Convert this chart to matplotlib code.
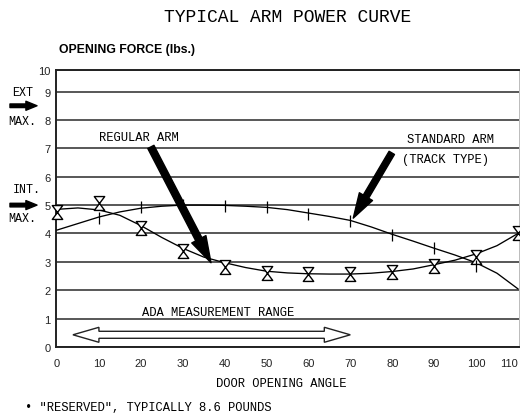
import matplotlib
matplotlib.use("Agg")
import matplotlib.pyplot as plt
from matplotlib.path import Path
from matplotlib.patches import FancyArrowPatch, Polygon
from matplotlib.transforms import blended_transform_factory, IdentityTransform

# ---------------- data ----------------
curve_angle = [0, 5, 10, 15, 20, 25, 30, 35, 40, 45, 50, 55, 60, 65, 70, 75, 80, 85, 90, 95, 100, 105, 110]
regular_curve = [4.85, 4.90, 4.83, 4.64, 4.28, 3.86, 3.48, 3.17, 2.97, 2.80, 2.67, 2.61, 2.58, 2.57,
                 2.57, 2.60, 2.66, 2.75, 2.90, 3.06, 3.28, 3.57, 4.00]
standard_curve = [4.12, 4.35, 4.58, 4.76, 4.89, 4.96, 5.00, 5.00, 4.99, 4.96, 4.92, 4.84, 4.72, 4.60,
                  4.46, 4.23, 3.97, 3.73, 3.48, 3.24, 2.97, 2.60, 2.05]

regular_angle = [0, 10, 20, 30, 40, 50, 60, 70, 80, 90, 100, 110]
regular_points = [4.76, 5.08, 4.20, 3.37, 2.82, 2.62, 2.58, 2.57, 2.64, 2.84, 3.17, 4.00]
standard_angle = [10, 20, 30, 40, 50, 60, 70, 80, 90, 100]
standard_points = [4.53, 4.92, 5.00, 4.97, 4.93, 4.68, 4.45, 3.95, 3.50, 2.87]

x_ticks = [0, 10, 20, 30, 40, 50, 60, 70, 80, 90, 100, 110]
y_ticks = [0, 1, 2, 3, 4, 5, 6, 7, 8, 9]
y_top = 9.76
y_tick_labels = ["0", "1", "2", "3", "4", "5", "6", "7", "8", "9", "10"]

ada_range = [3.8, 70.0]
ada_level = 0.43
ext_max_level = 8.5
int_max_level = 5.0

title = "TYPICAL ARM POWER CURVE"
ylabel = "OPENING FORCE (lbs.)"
xlabel = "DOOR OPENING ANGLE"
footnote = '\u2022 "RESERVED", TYPICALLY 8.6 POUNDS'

# ---------------- figure ----------------
MONO = "Liberation Mono"
SANS = "Liberation Sans"
W, H = 520, 414
fig = plt.figure(figsize=(W / 100, H / 100), dpi=100)
ax = fig.add_axes([56 / W, 66 / H, 463 / W, 277 / H])
ax.set_xlim(-0.24, 110.26)
ax.set_ylim(0, y_top)

ax.set_yticks(y_ticks + [y_top])
ax.set_yticklabels(y_tick_labels, fontfamily=SANS, fontsize=8)
ax.set_xticks(x_ticks)
xtl = ax.set_xticklabels([str(t) for t in x_ticks], fontfamily=SANS, fontsize=8)
xtl[-1].set_horizontalalignment("right")
ax.tick_params(axis="both", length=0, colors="#222222")
ax.tick_params(axis="y", pad=4)
ax.tick_params(axis="x", pad=8)
ax.yaxis.grid(True, color="#2a2a2a", linewidth=1.1)
ax.set_axisbelow(True)

for side in ["left", "bottom", "top"]:
    ax.spines[side].set_color("#222222")
    ax.spines[side].set_linewidth(1.4)
ax.spines["right"].set_color("#bbbbbb")
ax.spines["right"].set_linewidth(0.7)

# curves
ax.plot(curve_angle, regular_curve, color="black", lw=0.95, zorder=3)
ax.plot(curve_angle, standard_curve, color="black", lw=0.95, zorder=3)

hourglass = Path([(-0.75, 1), (0.75, 1), (-0.75, -1), (0.75, -1), (-0.75, 1)],
                 [Path.MOVETO, Path.LINETO, Path.LINETO, Path.LINETO, Path.CLOSEPOLY])
ax.plot(regular_angle, regular_points, linestyle="none", marker=hourglass, markersize=10,
        markerfacecolor="white", markeredgecolor="black", markeredgewidth=1.0,
        zorder=4, clip_on=False)
ax.plot(standard_angle, standard_points, linestyle="none", marker="|", markersize=8.6,
        markeredgecolor="black", markeredgewidth=0.9, zorder=4)

# big arrows
def big_arrow(tail, tip, tw, hw, hl):
    p = FancyArrowPatch(posA=tail, posB=tip,
                        arrowstyle=f"simple,head_length={hl},head_width={hw},tail_width={tw}",
                        mutation_scale=1, color="black", shrinkA=0, shrinkB=0, zorder=5)
    ax.add_patch(p)

big_arrow((22.4, 7.05), (36.75, 2.97), 5.0, 11.5, 19)
big_arrow((79.9, 6.84), (70.7, 4.54), 4.5, 11, 18)

ax.text(19.6, 7.4, "REGULAR ARM", fontfamily=MONO, fontsize=8.7, ha="center", va="center")
ax.text(94.0, 7.33, "STANDARD ARM", fontfamily=MONO, fontsize=8.7, ha="center", va="center")
ax.text(92.6, 6.62, "(TRACK TYPE)", fontfamily=MONO, fontsize=8.7, ha="center", va="center")

# ADA double hollow arrow
ax.text(38.4, 1.24, "ADA MEASUREMENT RANGE", fontfamily=MONO, fontsize=8.7, ha="center", va="center")
fig.canvas.draw()
(xl, yc), (xr, _) = ax.transData.transform([(ada_range[0], ada_level), (ada_range[1], ada_level)])
hl, hh, sh = 26, 7.5, 3.5
verts = [(xl, yc), (xl + hl, yc + hh), (xl + hl, yc + sh), (xr - hl, yc + sh), (xr - hl, yc + hh),
         (xr, yc), (xr - hl, yc - hh), (xr - hl, yc - sh), (xl + hl, yc - sh), (xl + hl, yc - hh)]
ax.add_patch(Polygon(verts, closed=True, facecolor="white", edgecolor="#222222", lw=1.0,
                     transform=IdentityTransform(), zorder=5))

# left-side indicators
bt = blended_transform_factory(ax.transAxes, ax.transData)
for lvl in [ext_max_level, int_max_level]:
    ax.add_patch(FancyArrowPatch(posA=(-0.0994, lvl), posB=(-0.041, lvl), transform=bt,
                                 arrowstyle="simple,head_length=8,head_width=6.5,tail_width=2.6",
                                 mutation_scale=1, color="black", shrinkA=0, shrinkB=0, clip_on=False))
ax.text(-0.0724, 8.98, "EXT", transform=bt, fontfamily=MONO, fontsize=8.4, ha="center", va="center")
ax.text(-0.0734, 7.97, "MAX.", transform=bt, fontfamily=MONO, fontsize=8.4, ha="center", va="center")
ax.text(-0.064, 5.55, "INT.", transform=bt, fontfamily=MONO, fontsize=8.4, ha="center", va="center")
ax.text(-0.0734, 4.55, "MAX.", transform=bt, fontfamily=MONO, fontsize=8.4, ha="center", va="center")

ax.text(0.006, 1.076, ylabel, transform=ax.transAxes, fontfamily=SANS, fontweight="bold",
        fontsize=8.8, ha="left", va="center")
ax.set_xlabel(xlabel, fontfamily=MONO, fontsize=8.7)
ax.xaxis.set_label_coords(0.486, -0.13)
ax.xaxis.label.set_va("center")

fig.text(288 / W, 1 - 18 / H, title, fontfamily=MONO, fontsize=13, ha="center", va="center")
fig.text(25 / W, 1 - 408 / H, footnote, fontfamily=MONO, fontsize=8.7, ha="left", va="center")

fig.savefig("out.png", dpi=100)
